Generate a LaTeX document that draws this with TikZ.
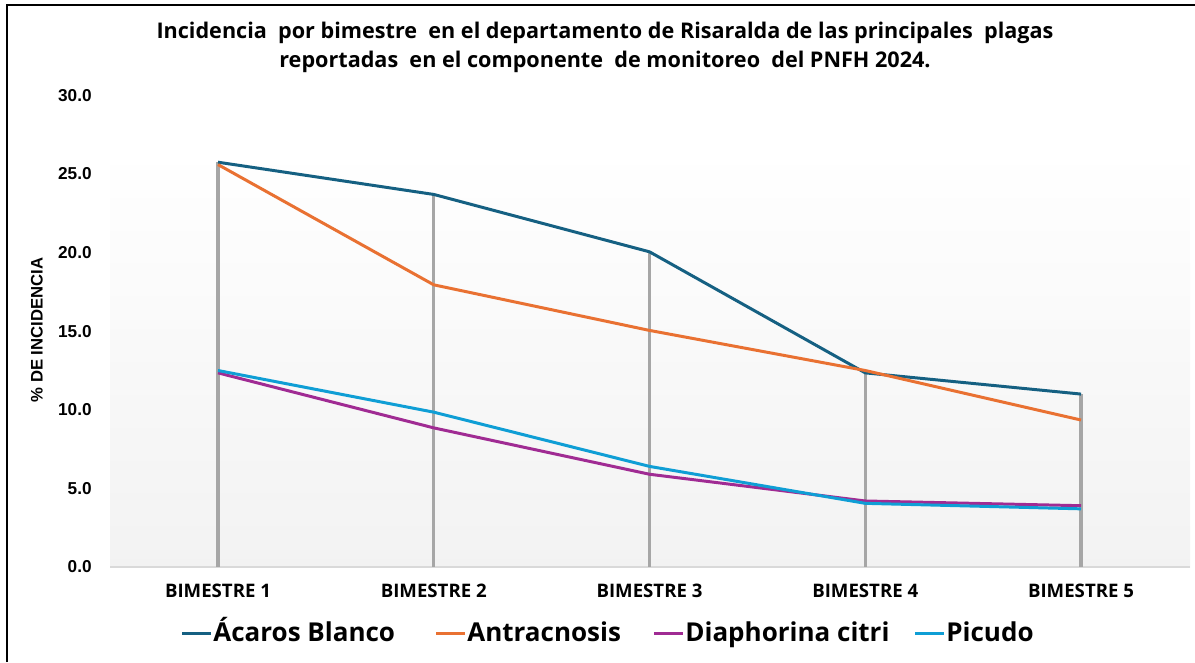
\documentclass[tikz,border=0pt]{standalone}
\usepackage{fontspec}
\setmainfont{Open Sans}
\newfontfamily\axisfont{Liberation Sans}
\usetikzlibrary{positioning}

\definecolor{acaros}{HTML}{156082}
\definecolor{antrac}{HTML}{E97132}
\definecolor{diaph}{HTML}{A02B93}
\definecolor{picudo}{HTML}{0F9ED5}
\definecolor{droplin}{HTML}{A6A6A6}
\definecolor{baselin}{HTML}{D9D9D9}

\begin{document}
\begin{tikzpicture}[x=0.02cm, y=-0.02cm,
  serie/.style={line width=1.7pt, line join=round},
  dropline/.style={line width=1.8pt, droplin},
  ylab/.style={font=\axisfont\bfseries\fontsize{9.8}{11}\selectfont, anchor=east, inner sep=0pt},
  catlab/.style={font=\bfseries\fontsize{10.6}{12}\selectfont, inner sep=0pt},
  legtxt/.style={font=\bfseries\fontsize{14.8}{17}\selectfont, anchor=base west, inner sep=0pt}]
  \useasboundingbox (0,0) rectangle (1195,662);
  % frame (only left and top edges are visible)
  \draw[line width=0.9pt] (7,662) -- (7,5) -- (1195,5);
  % plot area
  \shade[top color=white, bottom color=gray!10] (110,148) rectangle (1190,567);
  \coordinate (base) at (110,567);
  \draw[baselin, line width=0.8pt] (base) -- (1190,567);
  % title
  \node[font=\bfseries\fontsize{12.3}{16.6}\selectfont, align=center] (title) at (605,47)
    {Incidencia\ \ por bimestre\ \ en el departamento de Risaralda de las principales\ \ plagas\\
     reportadas\ \ en el componente\ \ de monitoreo\ \ del PNFH 2024.};
  % y axis
  \foreach \v in {0,5,...,30}
    \node[ylab] (y\v) at (92,{567-15.72*\v}) {\v.0};
  \node[font=\axisfont\bfseries\fontsize{9.5}{11}\selectfont, rotate=90] (ytitle) at (37,330) {\% DE INCIDENCIA};
  % data points
  \foreach \i/\v in {1/25.75,2/23.7,3/20.05,4/12.35,5/11.0}
    \coordinate (a\i) at ({218+215.75*(\i-1)},{567-15.72*\v});
  \foreach \i/\v in {1/25.6,2/17.95,3/15.05,4/12.5,5/9.35}
    \coordinate (n\i) at ({218+215.75*(\i-1)},{567-15.72*\v});
  \foreach \i/\v in {1/12.35,2/8.85,3/5.9,4/4.2,5/3.9}
    \coordinate (d\i) at ({218+215.75*(\i-1)},{567-15.72*\v});
  \foreach \i/\v in {1/12.5,2/9.85,3/6.4,4/4.05,5/3.7}
    \coordinate (p\i) at ({218+215.75*(\i-1)},{567-15.72*\v});
  % drop lines and categories
  \foreach \i in {1,...,5} {
    \draw[dropline] (a\i) -- (a\i |- base);
    \node[catlab] (b\i) at ({218+215.75*(\i-1)},591) {BIMESTRE \i};
  }
  % series
  \draw[serie, acaros] (a1) -- (a2) -- (a3) -- (a4) -- (a5);
  \draw[serie, antrac] (n1) -- (n2) -- (n3) -- (n4) -- (n5);
  \draw[serie, diaph] (d1) -- (d2) -- (d3) -- (d4) -- (d5);
  \draw[serie, picudo] (p1) -- (p2) -- (p3) -- (p4) -- (p5);
  % legend
  \node[legtxt] (lgA) at (213,641) {Ácaros Blanco};
  \node[legtxt] (lgN) at (467,641) {Antracnosis};
  \node[legtxt] (lgD) at (685,641) {Diaphorina citri};
  \node[legtxt] (lgP) at (946,641) {Picudo};
  \draw[serie, acaros] ([xshift=-0.62cm,yshift=0.16cm]lgA.base west) -- ([xshift=-0.04cm,yshift=0.16cm]lgA.base west);
  \draw[serie, antrac] ([xshift=-0.62cm,yshift=0.16cm]lgN.base west) -- ([xshift=-0.04cm,yshift=0.16cm]lgN.base west);
  \draw[serie, diaph] ([xshift=-0.62cm,yshift=0.16cm]lgD.base west) -- ([xshift=-0.04cm,yshift=0.16cm]lgD.base west);
  \draw[serie, picudo] ([xshift=-0.62cm,yshift=0.16cm]lgP.base west) -- ([xshift=-0.04cm,yshift=0.16cm]lgP.base west);
\end{tikzpicture}
\end{document}
